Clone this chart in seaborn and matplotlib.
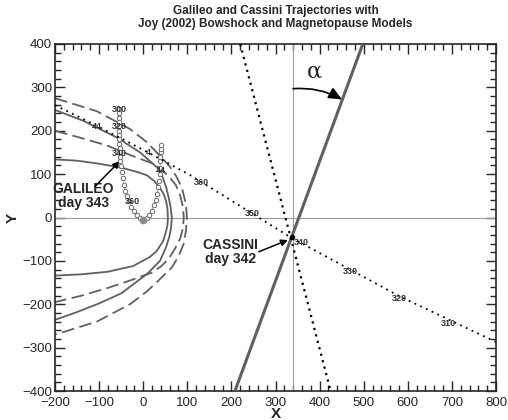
import matplotlib
matplotlib.use("Agg")
import matplotlib.pyplot as plt
import seaborn as sns
from matplotlib.ticker import MultipleLocator

# model boundary curves
mp_in_x = [-200, -150, -100, -50, -10, 9, 25, 38, 46, 52, 55, 56, 55, 51, 45, 30, 15, -23, -80, -140, -200]
mp_in_y = [134, 131, 124, 115, 104, 97, 84, 68, 55, 38, 20, 0, -18, -35, -55, -78, -91, -112, -125, -131, -134]

mp_out_x = [-200, -136, -59, -7, 31, 43, 52, 58, 62, 65, 63, 59, 52, 38, 9, -50, -100, -150, -200]
mp_out_y = [248, 223, 184, 150, 116, 96, 70, 45, 25, 0, -25, -45, -68, -100, -130, -175, -198, -218, -236]

bs_in_x = [-200, -143, -82, -32, 20, 40, 58, 74, 84, 90, 92, 90, 84, 72, 58, 40, 20, -32, -82, -143, -200]
bs_in_y = [200, 184, 166, 145, 125, 112, 95, 75, 50, 25, 0, -25, -48, -72, -95, -113, -127, -146, -163, -181, -195]

bs_out_x = [-200, -105, -30, 9, 40, 60, 75, 88, 97, 99, 97, 92, 80, 65, 40, 9, -30, -105, -200]
bs_out_y = [275, 245, 204, 173, 140, 118, 95, 68, 30, 0, -30, -60, -90, -115, -140, -170, -200, -240, -270]

# spacecraft trajectories
gal_x = [-56, -56, -56, -55, -55, -55, -54, -54, -54, -53, -53, -52, -52, -50, -48, -46, -44, -41, -37, -32,
         -27, -21, -15, -8, 0, 8, 14, 19, 24, 28, 31, 34, 36, 37, 38, 39, 39, 40, 40, 40]
gal_y = [250, 240, 230, 220, 210, 200, 190, 180, 170, 160, 150, 140, 130, 118, 104, 90, 76, 62, 50, 37,
         25, 14, 5, -1, -5, -2, 6, 16, 28, 41, 55, 70, 85, 100, 115, 130, 140, 150, 158, 166]
gal_labels = ["300", "320", "340", "360", "44", "4", "44"]
gal_lab_x = [-53, -53, -53, -25, -105, 11, 40]
gal_lab_y = [250, 210, 148, 36, 209, 150, 109]

cas_x = [-200, -114, 11, 106, 197, 333, 582, 800]
cas_y = [259, 216, 150, 98, 41, -45, -182, -287]
cas_labels = ["360", "350", "340", "330", "320", "310"]
cas_lab_x = [131, 247, 358, 469, 580, 693]
cas_lab_y = [80, 9, -58, -125, -186, -245]

# reference lines
normal_x = [208, 498]
normal_y = [-400, 400]
dot_x = [220, 425]
dot_y = [400, -400]
vline_x = 340

sns.set_style("ticks")
plt.rcParams["font.family"] = ["Liberation Sans", "DejaVu Sans"]

fig, ax = plt.subplots(figsize=(5.08, 4.2), dpi=100)
fig.subplots_adjust(left=55/508, right=496/508, top=1-44/420, bottom=1-391/420)

grey = "#606060"
ax.axhline(0, color="#9a9a9a", lw=0.8, zorder=1)
ax.axvline(vline_x, color="#9a9a9a", lw=0.8, zorder=1)

sns.lineplot(x=mp_in_x, y=mp_in_y, sort=False, estimator=None, color=grey, lw=1.3, ax=ax)
sns.lineplot(x=mp_out_x, y=mp_out_y, sort=False, estimator=None, color=grey, lw=1.3, ax=ax)
sns.lineplot(x=bs_in_x, y=bs_in_y, sort=False, estimator=None, color=grey, lw=1.3,
             linestyle=(0, (7, 3)), ax=ax)
sns.lineplot(x=bs_out_x, y=bs_out_y, sort=False, estimator=None, color=grey, lw=1.3,
             linestyle=(0, (7, 3)), ax=ax)

ax.plot(normal_x, normal_y, color=grey, lw=2.2, zorder=3)
ax.plot(dot_x, dot_y, color="black", lw=1.6, linestyle=(0, (1, 2)), zorder=3)

# Galileo
ax.plot(gal_x, gal_y, color="#777777", lw=0.8, linestyle=":", marker="o", ms=3.2,
        mfc="white", mec="#6a6a6a", mew=0.7, zorder=4)
ax.plot([0], [-5], marker="o", ms=4.5, color="#8a8a8a", zorder=5)
for t, x, y in zip(gal_labels, gal_lab_x, gal_lab_y):
    ax.text(x, y, t, fontsize=6.5, fontweight="bold", color="#333333",
            ha="center", va="center", zorder=6)

# Cassini
ax.plot(cas_x, cas_y, color="black", lw=1.3, linestyle=(0, (1, 2.5)), zorder=4)
ax.plot([338], [-45], marker="o", ms=3, color="black", zorder=5)
for t, x, y in zip(cas_labels, cas_lab_x, cas_lab_y):
    ax.text(x, y, t, fontsize=6.5, fontweight="bold", color="#333333",
            ha="center", va="center", zorder=6)

# annotations
ax.text(-136, 50, "GALILEO\nday 343", fontsize=10, fontweight="bold",
        ha="center", va="center", linespacing=1.0)
ax.annotate("", xy=(-53, 130), xytext=(-109, 72),
            arrowprops=dict(arrowstyle="-|>", color="black", lw=1.1, shrinkA=0, shrinkB=0))
ax.text(197, -80, "CASSINI\nday 342", fontsize=10, fontweight="bold",
        ha="center", va="center", linespacing=1.0)
ax.annotate("", xy=(328, -52), xytext=(262, -79),
            arrowprops=dict(arrowstyle="-|>", color="black", lw=1.1, shrinkA=0, shrinkB=0))
ax.annotate("", xy=(451, 272), xytext=(340, 297),
            arrowprops=dict(arrowstyle="-|>,head_length=0.8,head_width=0.35", color="black",
                            lw=1.2, connectionstyle="arc3,rad=-0.15", shrinkA=0, shrinkB=0))
ax.text(388, 336, "\u03b1", fontsize=16, family="DejaVu Serif", ha="center", va="center")

ax.set_xlim(-200, 800)
ax.set_ylim(-400, 400)
ax.xaxis.set_major_locator(MultipleLocator(100))
ax.xaxis.set_minor_locator(MultipleLocator(20))
ax.yaxis.set_major_locator(MultipleLocator(100))
ax.yaxis.set_minor_locator(MultipleLocator(20))
ax.tick_params(which="both", direction="in", top=True, right=True, width=1.0, labelsize=9.5, pad=2)
ax.tick_params(axis="x", which="both", pad=4)
ax.tick_params(which="major", length=7)
ax.tick_params(which="minor", length=4)
for s in ax.spines.values():
    s.set_linewidth(1.2)

ax.set_xlabel("X", fontsize=11, fontweight="bold", labelpad=-1)
ax.set_ylabel("Y", fontsize=11, fontweight="bold", labelpad=2)
ax.set_title("Galileo and Cassini Trajectories with\nJoy (2002) Bowshock and Magnetopause Models",
             fontsize=8.5, fontweight="bold", pad=12, linespacing=1.1)

plt.savefig("out.png", dpi=100)
plt.close()
